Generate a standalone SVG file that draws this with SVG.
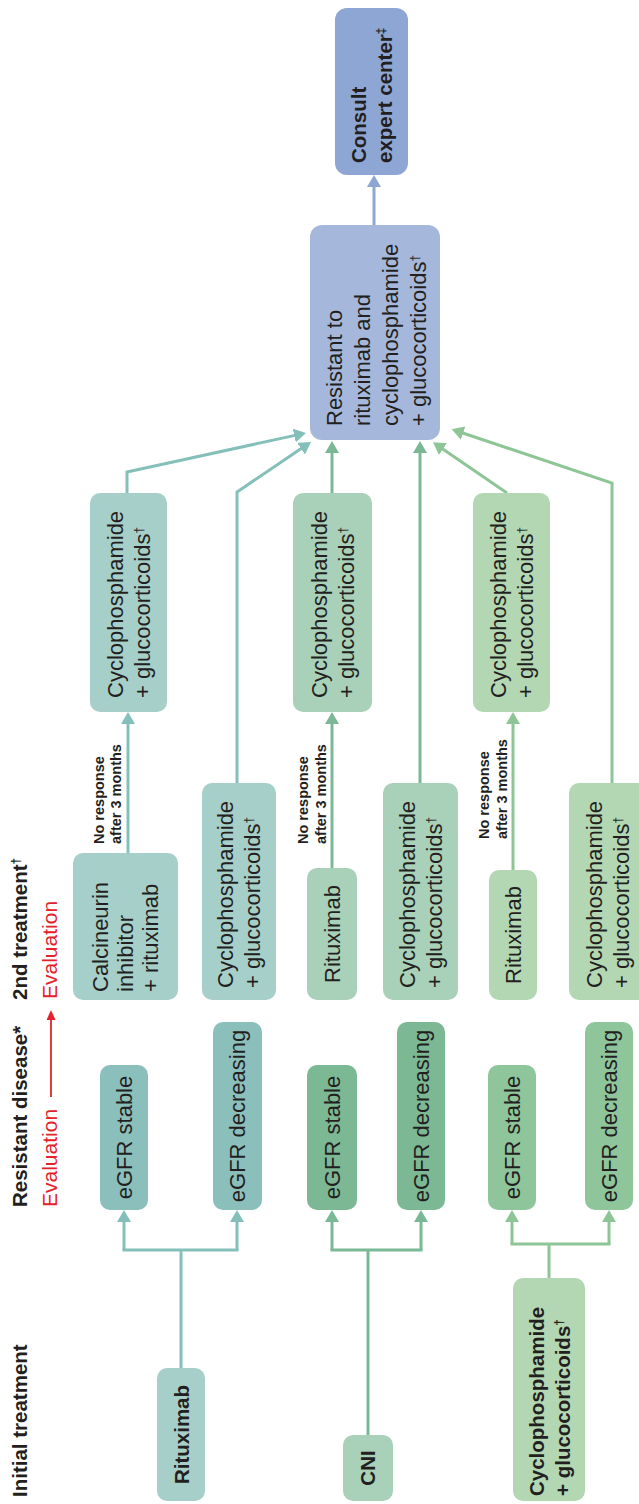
<svg xmlns="http://www.w3.org/2000/svg" width="639" height="1504" viewBox="0 0 639 1504">
<style>
  text { font-family: "Liberation Sans", Arial, sans-serif; fill: #231f20; }
  .h { font-size: 20.5px; font-weight: bold; }
  .t { font-size: 22px; }
  .b { font-size: 20.5px; font-weight: bold; }
  .lab { font-size: 14.5px; font-weight: bold; }
  .red { fill: #e3232b; font-size: 21px; }
  .sup { font-size: 12px; }
  .mid { text-anchor: middle; }
  .c1 { stroke: #84c0b9; }
  .c2 { stroke: #7bb996; }
  .c3 { stroke: #8ec597; }
  .c4 { stroke: #8da6d3; }
  .con path { fill: none; stroke-width: 3; }
  .f1a { fill: #8bbfbb; } .f1b { fill: #a7cfc9; }
  .f2a { fill: #7cb894; } .f2b { fill: #a9d1b9; }
  .f3a { fill: #8ec59b; } .f3b { fill: #b3d7b3; }
  .fres { fill: #a5b8db; } .fcon { fill: #8da6d3; }
</style>
<defs>
  <marker id="m1" markerUnits="userSpaceOnUse" markerWidth="14" markerHeight="14" refX="2" refY="7" orient="auto"><path d="M0,0 L12,7 L0,14 z" fill="#84c0b9"/></marker>
  <marker id="m2" markerUnits="userSpaceOnUse" markerWidth="14" markerHeight="14" refX="2" refY="7" orient="auto"><path d="M0,0 L12,7 L0,14 z" fill="#7bb996"/></marker>
  <marker id="m3" markerUnits="userSpaceOnUse" markerWidth="14" markerHeight="14" refX="2" refY="7" orient="auto"><path d="M0,0 L12,7 L0,14 z" fill="#8ec597"/></marker>
  <marker id="m4" markerUnits="userSpaceOnUse" markerWidth="14" markerHeight="14" refX="2" refY="7" orient="auto"><path d="M0,0 L12,7 L0,14 z" fill="#8da6d3"/></marker>
  <marker id="mr" markerUnits="userSpaceOnUse" markerWidth="10" markerHeight="10" refX="2" refY="4.5" orient="auto"><path d="M0,0 L10,4.5 L0,9 z" fill="#e3232b"/></marker>
</defs>
<g transform="translate(0,1504) rotate(-90)">
  <g id="headers">
    <text class="h" x="7" y="27">Initial treatment</text>
    <text class="h" x="297" y="27">Resistant disease*</text>
    <text class="h" x="504" y="27">2nd treatment<tspan class="sup" baseline-shift="super">†</tspan></text>
    <text class="red" x="297" y="57">Evaluation</text>
    <path d="M407,51 L486,51" stroke="#e3232b" stroke-width="1.8" fill="none" marker-end="url(#mr)"/>
    <text class="red" x="505" y="57">Evaluation</text>
  </g>
  <g id="connectors" class="con">
    <path class="c1" d="M136,181 L254,181"/>
    <path class="c1" d="M254,122.5 L254,238.5"/>
    <path class="c1" d="M254,124 L284,124" marker-end="url(#m1)"/>
    <path class="c1" d="M254,237 L284,237" marker-end="url(#m1)"/>
    <path class="c1" d="M651,128 L782,128" marker-end="url(#m1)"/>
    <path class="c1" d="M1011,127 L1032,127 L1068.9,296.2" marker-end="url(#m1)"/>
    <path class="c1" d="M721,237 L1012,237 L1056.4,302.7" marker-end="url(#m1)"/>

    <path class="c2" d="M69,368 L254,368"/>
    <path class="c2" d="M254,330.5 L254,422.5"/>
    <path class="c2" d="M254,332 L284,332" marker-end="url(#m2)"/>
    <path class="c2" d="M254,421 L284,421" marker-end="url(#m2)"/>
    <path class="c2" d="M636,332 L782,332" marker-end="url(#m2)"/>
    <path class="c2" d="M1011,332 L1053,332" marker-end="url(#m2)"/>
    <path class="c2" d="M721,420 L1053,420" marker-end="url(#m2)"/>

    <path class="c3" d="M226,549 L260,549"/>
    <path class="c3" d="M260,510.5 L260,610.5"/>
    <path class="c3" d="M260,512 L284,512" marker-end="url(#m3)"/>
    <path class="c3" d="M260,609 L284,609" marker-end="url(#m3)"/>
    <path class="c3" d="M634,513 L782,513" marker-end="url(#m3)"/>
    <path class="c3" d="M1011,507 L1056,441.3" marker-end="url(#m3)"/>
    <path class="c3" d="M721,612 L1021,612 L1071.5,461.2" marker-end="url(#m3)"/>

    <path class="c4" d="M1279,374 L1319,374" marker-end="url(#m4)"/>
  </g>
  <g id="labels">
    <text class="lab" x="660" y="104"><tspan x="660" y="104">No response</tspan><tspan x="660" y="121">after 3 months</tspan></text>
    <text class="lab" x="660" y="308"><tspan x="660" y="308">No response</tspan><tspan x="660" y="326">after 3 months</tspan></text>
    <text class="lab" x="665" y="489"><tspan x="665" y="489">No response</tspan><tspan x="665" y="507">after 3 months</tspan></text>
  </g>

  <g id="n-ritux0"><rect class="f1b" x="3" y="157" width="133" height="48" rx="10"/><text class="b mid" x="69.5" y="189">Rituximab</text></g>
  <g id="n-cni0"><rect class="f2b" x="3" y="343" width="66" height="50" rx="10"/><text class="b mid" x="36" y="375">CNI</text></g>
  <g id="n-cyc0"><rect class="f3b" x="3" y="513" width="223" height="72" rx="10"/><text class="b" x="8" y="544"><tspan x="8" y="544">Cyclophosphamide</tspan><tspan x="8" y="570">+ glucocorticoids<tspan class="sup" baseline-shift="super">†</tspan></tspan></text></g>

  <g id="n-g1-stable"><rect class="f1a" x="294" y="100" width="145" height="48" rx="10"/><text class="t mid" x="366.5" y="131.5">eGFR stable</text></g>
  <g id="n-g1-decr"><rect class="f1a" x="294" y="213" width="188" height="49" rx="10"/><text class="t mid" x="388" y="245">eGFR decreasing</text></g>
  <g id="n-g2-stable"><rect class="f2a" x="294" y="307" width="145" height="50" rx="10"/><text class="t mid" x="366.5" y="339.5">eGFR stable</text></g>
  <g id="n-g2-decr"><rect class="f2a" x="294" y="397" width="188" height="48" rx="10"/><text class="t mid" x="388" y="428.5">eGFR decreasing</text></g>
  <g id="n-g3-stable"><rect class="f3a" x="294" y="488" width="145" height="48" rx="10"/><text class="t mid" x="366.5" y="519.5">eGFR stable</text></g>
  <g id="n-g3-decr"><rect class="f3a" x="294" y="585" width="188" height="48" rx="10"/><text class="t mid" x="388" y="616.5">eGFR decreasing</text></g>

  <g id="n-g1-calc"><rect class="f1b" x="504" y="73" width="147" height="105" rx="10"/><text class="t" x="512" y="108"><tspan x="512" y="108">Calcineurin</tspan><tspan x="512" y="133">inhibitor</tspan><tspan x="512" y="158">+ rituximab</tspan></text></g>
  <g id="n-g1-cyc2"><rect class="f1b" x="504" y="202" width="217" height="74" rx="10"/><text class="t" x="516" y="233"><tspan x="516" y="233">Cyclophosphamide</tspan><tspan x="516" y="260">+ glucocorticoids<tspan class="sup" baseline-shift="super">†</tspan></tspan></text></g>
  <g id="n-g2-ritux"><rect class="f2b" x="504" y="307" width="132" height="50" rx="10"/><text class="t mid" x="570" y="339.5">Rituximab</text></g>
  <g id="n-g2-cyc2"><rect class="f2b" x="504" y="383" width="217" height="75" rx="10"/><text class="t" x="516" y="414.5"><tspan x="516" y="414.5">Cyclophosphamide</tspan><tspan x="516" y="441.5">+ glucocorticoids<tspan class="sup" baseline-shift="super">†</tspan></tspan></text></g>
  <g id="n-g3-ritux"><rect class="f3b" x="504" y="489" width="130" height="48" rx="10"/><text class="t mid" x="569" y="520.5">Rituximab</text></g>
  <g id="n-g3-cyc2"><rect class="f3b" x="504" y="569" width="217" height="79" rx="10"/><text class="t" x="516" y="602"><tspan x="516" y="602">Cyclophosphamide</tspan><tspan x="516" y="629">+ glucocorticoids<tspan class="sup" baseline-shift="super">†</tspan></tspan></text></g>

  <g id="n-g1-cyc3"><rect class="f1b" x="792" y="90" width="219" height="77" rx="10"/><text class="t" x="806" y="122.5"><tspan x="806" y="122.5">Cyclophosphamide</tspan><tspan x="806" y="149.5">+ glucocorticoids<tspan class="sup" baseline-shift="super">†</tspan></tspan></text></g>
  <g id="n-g2-cyc3"><rect class="f2b" x="792" y="293" width="219" height="79" rx="10"/><text class="t" x="806" y="326.5"><tspan x="806" y="326.5">Cyclophosphamide</tspan><tspan x="806" y="353.5">+ glucocorticoids<tspan class="sup" baseline-shift="super">†</tspan></tspan></text></g>
  <g id="n-g3-cyc3"><rect class="f3b" x="792" y="473" width="219" height="77" rx="10"/><text class="t" x="806" y="505.5"><tspan x="806" y="505.5">Cyclophosphamide</tspan><tspan x="806" y="532.5">+ glucocorticoids<tspan class="sup" baseline-shift="super">†</tspan></tspan></text></g>

  <g id="n-resistant"><rect class="fres" x="1064" y="310" width="215" height="130" rx="12"/><text class="t" x="1078" y="342"><tspan x="1078" y="342">Resistant to</tspan><tspan x="1078" y="370">rituximab and</tspan><tspan x="1078" y="398">cyclophosphamide</tspan><tspan x="1078" y="426">+ glucocorticoids<tspan class="sup" baseline-shift="super">†</tspan></tspan></text></g>
  <g id="n-consult"><rect class="fcon" x="1329" y="335" width="167" height="73" rx="12"/><text class="b" x="1341" y="366"><tspan x="1341" y="366">Consult</tspan><tspan x="1341" y="392">expert center<tspan class="sup" baseline-shift="super">‡</tspan></tspan></text></g>
</g>
</svg>
